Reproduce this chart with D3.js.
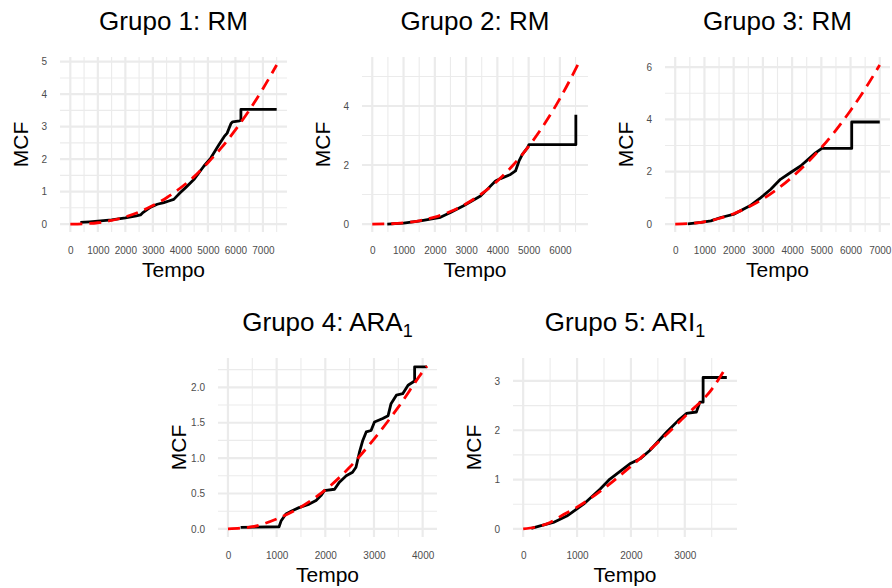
<!DOCTYPE html>
<html><head><meta charset="utf-8">
<script src="https://cdn.jsdelivr.net/npm/d3@7"></script>
<style>body{margin:0;background:#fff} svg{display:block}</style>
</head><body><svg id="c" width="892" height="588"></svg>
<script>
// ---------- data ----------
const titles = ["Grupo 1: RM", "Grupo 2: RM", "Grupo 3: RM", "Grupo 4: ARA", "Grupo 5: ARI"];
const titleSubs = ["", "", "", "1", "1"];
const xLabel = "Tempo";
const yLabel = "MCF";

// observed MCF (black step-like line)
const g1Time = [365,700,1000,1500,2000,2400,2550,2650,2920,3160,3400,3580,3760,4000,4200,4490,4850,5110,5400,5590,5700,5770,5840,5900,6150,6200,6200,7500];
const g1Mcf  = [0.05,0.07,0.09,0.13,0.19,0.25,0.28,0.36,0.52,0.61,0.66,0.71,0.76,0.97,1.13,1.37,1.78,2.04,2.44,2.69,2.80,2.95,3.10,3.15,3.18,3.20,3.53,3.53];
const g2Time = [480,1000,1540,1860,2180,2500,2920,3460,3700,3940,4100,4420,4580,4690,4800,4960,5010,6510,6510];
const g2Mcf  = [0.00,0.03,0.11,0.17,0.23,0.39,0.62,0.95,1.20,1.46,1.54,1.68,1.80,2.13,2.36,2.58,2.69,2.69,3.70];
const g3Time = [430,880,1220,1560,2020,2590,2930,3270,3600,3950,4290,4800,5020,6040,6040,7000];
const g3Mcf  = [0.01,0.06,0.12,0.25,0.38,0.72,1.01,1.33,1.71,1.97,2.22,2.72,2.89,2.89,3.90,3.90];
const g4Time = [260,1050,1090,1190,1330,1460,1670,1810,1910,1980,2190,2290,2430,2560,2630,2700,2770,2840,2940,3010,3180,3290,3350,3460,3590,3700,3835,3835,4090];
const g4Mcf  = [0.02,0.03,0.11,0.21,0.26,0.30,0.35,0.40,0.47,0.54,0.56,0.66,0.75,0.80,0.87,1.08,1.25,1.37,1.39,1.51,1.56,1.60,1.77,1.89,1.91,2.03,2.09,2.29,2.29];
const g5Time = [150,315,560,810,1120,1430,1610,1980,2170,2350,2660,2880,3030,3215,3280,3340,3340,3780];
const g5Mcf  = [0.01,0.06,0.13,0.26,0.50,0.81,1.01,1.32,1.42,1.59,1.96,2.20,2.34,2.37,2.57,2.57,3.07,3.07];

// fitted model (red dashed line)
const g1FitTime = [0,500,1000,1500,2000,2500,3000,3500,4000,4500,5000,5500,6000,6500,7000,7500];
const g1FitMcf  = [0,0.01,0.04,0.11,0.22,0.37,0.57,0.81,1.11,1.46,1.89,2.36,2.90,3.50,4.17,4.90];
const g2FitTime = [0,500,1000,1500,2000,2500,3000,3500,4000,4500,5000,5500,6000,6570];
const g2FitMcf  = [0,0.006,0.038,0.111,0.236,0.425,0.686,1.028,1.461,1.99,2.63,3.38,4.25,5.39];
const g3FitTime = [0,500,1000,1500,2000,2500,3000,3500,4000,4500,5000,5500,6000,6500,7000];
const g3FitMcf  = [0,0.019,0.087,0.212,0.396,0.644,0.958,1.342,1.795,2.32,2.92,3.59,4.34,5.17,6.08];
const g4FitTime = [0,500,1000,1500,2000,2500,3000,3500,4000,4090];
const g4FitMcf  = [0,0.03,0.14,0.31,0.55,0.87,1.27,1.72,2.22,2.30];
const g5FitTime = [0,250,500,750,1000,1500,2000,2500,3000,3500,3780];
const g5FitMcf  = [0,0.04,0.13,0.29,0.44,0.82,1.27,1.75,2.28,2.83,3.30];

const g1XTicks = [0,1000,2000,3000,4000,5000,6000,7000];
const g1YTicks = [0,1,2,3,4,5];
const g2XTicks = [0,1000,2000,3000,4000,5000,6000];
const g2YTicks = [0,2,4];
const g3XTicks = [0,1000,2000,3000,4000,5000,6000,7000];
const g3YTicks = [0,2,4,6];
const g4XTicks = [0,1000,2000,3000,4000];
const g4YTicks = [0,0.5,1.0,1.5,2.0];
const g5XTicks = [0,1000,2000,3000];
const g5YTicks = [0,1,2,3];

// ---------- layout ----------
const panels = [
  {time:g1Time, mcf:g1Mcf, fitTime:g1FitTime, fitMcf:g1FitMcf, xt:g1XTicks, yt:g1YTicks, yFmt:"d", L:60,  R:287, T:57,  B:232},
  {time:g2Time, mcf:g2Mcf, fitTime:g2FitTime, fitMcf:g2FitMcf, xt:g2XTicks, yt:g2YTicks, yFmt:"d", L:362, R:588, T:57,  B:232},
  {time:g3Time, mcf:g3Mcf, fitTime:g3FitTime, fitMcf:g3FitMcf, xt:g3XTicks, yt:g3YTicks, yFmt:"d", L:665, R:890, T:57,  B:232},
  {time:g4Time, mcf:g4Mcf, fitTime:g4FitTime, fitMcf:g4FitMcf, xt:g4XTicks, yt:g4YTicks, yFmt:".1f", L:218, R:437, T:358, B:537},
  {time:g5Time, mcf:g5Mcf, fitTime:g5FitTime, fitMcf:g5FitMcf, xt:g5XTicks, yt:g5YTicks, yFmt:"d", L:513, R:737, T:358, B:537}
];

const FONT = "'Liberation Sans', Arial, Helvetica, sans-serif";
const svg = d3.select("#c");
svg.append("rect").attr("width",892).attr("height",588).attr("fill","#fff");

function minorOf(ticks, dom){
  const step = ticks[1]-ticks[0];
  const out = [];
  for (let i=-1;i<ticks.length;i++){
    const v = ticks[0] + step*(i+0.5);
    if (v>=dom[0] && v<=dom[1]) out.push(v);
  }
  return out;
}

panels.forEach((p,i)=>{
  const xMax = d3.max(p.time.concat(p.fitTime));
  const yMax = d3.max(p.mcf.concat(p.fitMcf));
  const xDom = [0 - xMax*0.05, xMax*1.05];
  const yDom = [0 - yMax*0.05, yMax*1.05];
  const x = d3.scaleLinear().domain(xDom).range([p.L,p.R]);
  const y = d3.scaleLinear().domain(yDom).range([p.B,p.T]);
  const g = svg.append("g");

  // grid
  const grid = g.append("g");
  minorOf(p.xt,xDom).forEach(v=>grid.append("line").attr("x1",x(v)).attr("x2",x(v)).attr("y1",p.T).attr("y2",p.B)
     .attr("stroke","#ebebeb").attr("stroke-width",1.1));
  minorOf(p.yt,yDom).forEach(v=>grid.append("line").attr("y1",y(v)).attr("y2",y(v)).attr("x1",p.L).attr("x2",p.R)
     .attr("stroke","#ebebeb").attr("stroke-width",1.1));
  p.xt.forEach(v=>grid.append("line").attr("x1",x(v)).attr("x2",x(v)).attr("y1",p.T).attr("y2",p.B)
     .attr("stroke","#ebebeb").attr("stroke-width",2.2));
  p.yt.forEach(v=>grid.append("line").attr("y1",y(v)).attr("y2",y(v)).attr("x1",p.L).attr("x2",p.R)
     .attr("stroke","#ebebeb").attr("stroke-width",2.2));

  // axes
  const ax = g.append("g").attr("transform",`translate(0,${p.B})`)
    .call(d3.axisBottom(x).tickValues(p.xt).tickFormat(d3.format("d")).tickSize(0).tickPadding(15));
  const ay = g.append("g").attr("transform",`translate(${p.L},0)`)
    .call(d3.axisLeft(y).tickValues(p.yt).tickFormat(d3.format(p.yFmt)).tickSize(0).tickPadding(13));
  [ax,ay].forEach(a=>{
    a.select(".domain").remove();
    a.selectAll("text").attr("fill","#4d4d4d").style("font-family",FONT).style("font-size","10px");
  });

  // observed line
  const pts = p.time.map((t,k)=>[t,p.mcf[k]]);
  g.append("path").datum(pts)
    .attr("d", d3.line().x(d=>x(d[0])).y(d=>y(d[1])))
    .attr("fill","none").attr("stroke","#000").attr("stroke-width",2.8).attr("stroke-linejoin","round");

  // fitted line
  const fpts = p.fitTime.map((t,k)=>[t,p.fitMcf[k]]);
  g.append("path").datum(fpts)
    .attr("d", d3.line().curve(d3.curveMonotoneX).x(d=>x(d[0])).y(d=>y(d[1])))
    .attr("fill","none").attr("stroke","#ff0000").attr("stroke-width",2.8).attr("stroke-dasharray","12,7");

  // titles
  const cx = (p.L+p.R)/2;
  const tt = g.append("text").attr("x",cx).attr("y",p.T-27.5).attr("text-anchor","middle")
    .style("font-family",FONT).style("font-size","26px").attr("fill","#000");
  tt.append("tspan").text(titles[i]);
  if (titleSubs[i]) tt.append("tspan").attr("dy",6).style("font-size","18px").text(titleSubs[i]);

  g.append("text").attr("x",cx).attr("y",p.B+45).attr("text-anchor","middle")
    .style("font-family",FONT).style("font-size","21px").attr("fill","#000").text(xLabel);
  const ly = (p.T+p.B)/2;
  const lx = p.L-32;
  g.append("text").attr("transform",`translate(${lx},${ly}) rotate(-90)`).attr("text-anchor","middle")
    .style("font-family",FONT).style("font-size","21px").attr("fill","#000").text(yLabel);
});
</script></body></html>
